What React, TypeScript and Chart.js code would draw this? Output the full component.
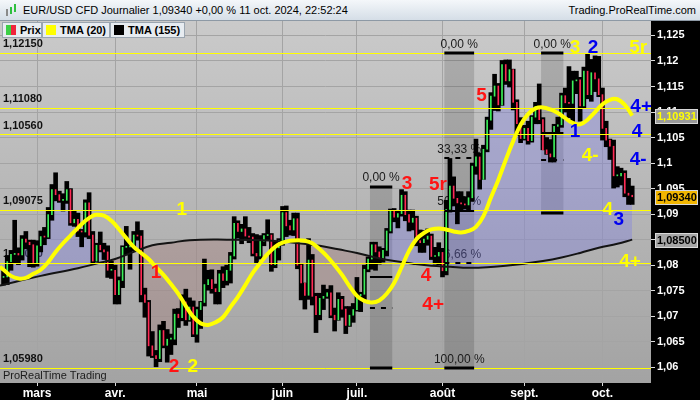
import React, { useEffect, useRef } from "react";
import { Chart, registerables } from "chart.js";

Chart.register(...registerables);

const FONT = '"Liberation Sans", Arial, Helvetica, sans-serif';

// Daily candles, index 0 = 19 Feb 2024 ... index 169 = 11 Oct 2024
const opens = [
  1.0776, 1.0777, 1.0807, 1.0821, 1.0823, 1.082, 1.0851, 1.0845, 1.084, 1.0805,
  1.0838, 1.0856, 1.0855, 1.0899, 1.0948, 1.0938, 1.0927, 1.0927, 1.0948, 1.0883,
  1.089, 1.0867, 1.0865, 1.0922, 1.0859, 1.0808, 1.0839, 1.083, 1.0826, 1.079,
  1.079, 1.0742, 1.077, 1.0835, 1.0836, 1.0838, 1.0859, 1.0857, 1.0742, 1.0727,
  1.0642, 1.0623, 1.0617, 1.0672, 1.0643, 1.0655, 1.0655, 1.0704, 1.0697, 1.0728,
  1.0693, 1.0718,
  1.0665, 1.0713, 1.0727, 1.0762, 1.0772, 1.0754, 1.0748, 1.0783, 1.077, 1.079,
  1.0818, 1.0882, 1.0866, 1.0871, 1.0857, 1.0855, 1.0823, 1.0818, 1.0847, 1.0858,
  1.0859, 1.0801, 1.0834,
  1.0848, 1.0903, 1.0877, 1.0869, 1.0891, 1.08, 1.0765, 1.0741, 1.081, 1.0739,
  1.0703, 1.0735, 1.0739, 1.0746, 1.0702, 1.0693, 1.0733, 1.0714, 1.0682, 1.0702,
  1.0713, 1.074, 1.0743, 1.0792, 1.0812, 1.084, 1.0826, 1.0813, 1.0829, 1.0867,
  1.0906, 1.0894, 1.0901, 1.0937, 1.0899, 1.0884, 1.0892, 1.0848, 1.0844, 1.0851,
  1.0857, 1.0817, 1.0818,
  1.0825, 1.0789, 1.0909, 1.0955, 1.0931, 1.0922, 1.092, 1.0918, 1.0932, 1.0994,
  1.1012, 1.0968, 1.1027, 1.1084, 1.1131, 1.1151, 1.1114, 1.1193, 1.1161, 1.1183,
  1.1119, 1.1077,
  1.1048, 1.1068, 1.1044, 1.109, 1.1111, 1.1085, 1.1026, 1.1018, 1.1012, 1.1072,
  1.1075, 1.1132, 1.1118, 1.1117, 1.1161, 1.1163, 1.1112, 1.118, 1.1134, 1.1177,
  1.1165,
  1.1134, 1.1068, 1.1045, 1.1033, 1.0975, 1.0975, 1.098, 1.0941, 1.0937,
];
const highs = [
  1.0789, 1.0819, 1.0829, 1.0888, 1.0834, 1.0858, 1.0866, 1.0849, 1.0849, 1.0848,
  1.0867, 1.0874, 1.0913, 1.0958, 1.0981, 1.0945, 1.094, 1.0964, 1.095, 1.0907,
  1.0902, 1.087, 1.0928, 1.0942, 1.0866, 1.0843, 1.0865, 1.0843, 1.0838, 1.0808,
  1.08, 1.0777, 1.0838, 1.0876, 1.0847, 1.0866, 1.0885, 1.0868, 1.0755, 1.0731,
  1.067, 1.0633, 1.0683, 1.069, 1.0674, 1.0665, 1.0714, 1.0715, 1.0742, 1.0753,
  1.0736, 1.073,
  1.0718, 1.0729, 1.0812, 1.079, 1.0791, 1.0763, 1.079, 1.0797, 1.08, 1.0825,
  1.0895, 1.0887, 1.088, 1.0895, 1.0874, 1.0862, 1.086, 1.0858, 1.0862, 1.0889,
  1.0862, 1.0846, 1.0852,
  1.0915, 1.0916, 1.0888, 1.0902, 1.0902, 1.0803, 1.0765, 1.0852, 1.0821, 1.0745,
  1.0745, 1.0761, 1.0753, 1.076, 1.0716, 1.0746, 1.0739, 1.0719, 1.0719, 1.0725,
  1.0776, 1.0747, 1.08, 1.0816, 1.0845, 1.0845, 1.0836, 1.0833, 1.0872, 1.091,
  1.0911, 1.0906, 1.0948, 1.0944, 1.0908, 1.0908, 1.0896, 1.0869, 1.0868, 1.0871,
  1.0861, 1.0835, 1.0844,
  1.0833, 1.0927, 1.1009, 1.0973, 1.0944, 1.0944, 1.0934, 1.0944, 1.1, 1.1047,
  1.102, 1.1035, 1.109, 1.1138, 1.1174, 1.1156, 1.1201, 1.1202, 1.1202, 1.1184,
  1.1124, 1.1089,
  1.1074, 1.1082, 1.1093, 1.1119, 1.1155, 1.1089, 1.105, 1.1046, 1.1076, 1.109,
  1.1137, 1.1147, 1.1189, 1.118, 1.118, 1.1168, 1.1188, 1.1214, 1.1203, 1.121,
  1.1209,
  1.1147, 1.1082, 1.1047, 1.1045, 1.0993, 1.099, 1.0985, 1.097, 1.0955,
];
const lows = [
  1.0761, 1.0762, 1.079, 1.0803, 1.0801, 1.081, 1.0832, 1.0797, 1.0796, 1.0798,
  1.0826, 1.084, 1.0852, 1.0888, 1.0926, 1.0923, 1.0906, 1.0921, 1.0878, 1.0876,
  1.0856, 1.0836, 1.0855, 1.0852, 1.0802, 1.0806, 1.0826, 1.0811, 1.0776, 1.0774,
  1.0724, 1.0724, 1.0756, 1.082, 1.0792, 1.0828, 1.0849, 1.0728, 1.0698, 1.0622,
  1.0619, 1.0601, 1.0611, 1.0638, 1.061, 1.0625, 1.0644, 1.0678, 1.0691, 1.0682,
  1.069, 1.066,
  1.0649, 1.0676, 1.072, 1.0751, 1.0745, 1.0724, 1.0724, 1.0756, 1.0761, 1.0765,
  1.0812, 1.0853, 1.0842, 1.0852, 1.0844, 1.0818, 1.0805, 1.0812, 1.0838, 1.0848,
  1.0788, 1.0795, 1.081,
  1.0839, 1.0856, 1.0859, 1.0858, 1.0793, 1.0732, 1.0714, 1.0733, 1.0722, 1.0668,
  1.0693, 1.0713, 1.0735, 1.0697, 1.0671, 1.0692, 1.0698, 1.0666, 1.068, 1.0688,
  1.071, 1.0709, 1.073, 1.0787, 1.0792, 1.079, 1.0802, 1.0806, 1.0818, 1.0863,
  1.0885, 1.0873, 1.0896, 1.0887, 1.0867, 1.0869, 1.0838, 1.0825, 1.0825, 1.0839,
  1.0811, 1.0802, 1.0801,
  1.0777, 1.0781, 1.0904, 1.0916, 1.0881, 1.0906, 1.091, 1.0905, 1.0925, 1.0978,
  1.0949, 1.0968, 1.1022, 1.1066, 1.1103, 1.1102, 1.1113, 1.1154, 1.1149, 1.1104,
  1.1054, 1.104,
  1.1045, 1.1037, 1.1041, 1.1077, 1.1077, 1.1026, 1.1017, 1.1002, 1.1002, 1.106,
  1.107, 1.11, 1.1089, 1.108, 1.1136, 1.1082, 1.1108, 1.1126, 1.1121, 1.114,
  1.113,
  1.1045, 1.1032, 1.1007, 1.0951, 1.0953, 1.0957, 1.0934, 1.0919, 1.0919,
];
const closes = [
  1.0777, 1.0807, 1.0821, 1.0823, 1.082, 1.0851, 1.0845, 1.084, 1.0805, 1.0838,
  1.0856, 1.0855, 1.0899, 1.0948, 1.0938, 1.0927, 1.0927, 1.0948, 1.0883, 1.089,
  1.0867, 1.0865, 1.0922, 1.0859, 1.0808, 1.0839, 1.083, 1.0826, 1.079, 1.079,
  1.0742, 1.077, 1.0835, 1.0836, 1.0838, 1.0859, 1.0857, 1.0742, 1.0727, 1.0642,
  1.0623, 1.0617, 1.0672, 1.0643, 1.0655, 1.0655, 1.0704, 1.0697, 1.0728, 1.0693,
  1.0718, 1.0665,
  1.0713, 1.0727, 1.0762, 1.0772, 1.0754, 1.0748, 1.0783, 1.077, 1.079, 1.0818,
  1.0882, 1.0866, 1.0871, 1.0857, 1.0855, 1.0823, 1.0818, 1.0847, 1.0858, 1.0859,
  1.0801, 1.0834, 1.0848,
  1.0903, 1.0877, 1.0869, 1.0891, 1.08, 1.0765, 1.0741, 1.081, 1.0739, 1.0703,
  1.0735, 1.0739, 1.0746, 1.0702, 1.0693, 1.0733, 1.0714, 1.0682, 1.0702, 1.0713,
  1.074, 1.0743, 1.0792, 1.0812, 1.084, 1.0826, 1.0813, 1.0829, 1.0867, 1.0906,
  1.0894, 1.0901, 1.0937, 1.0899, 1.0884, 1.0892, 1.0848, 1.0844, 1.0851, 1.0857,
  1.0817, 1.0818, 1.0825,
  1.0789, 1.0909, 1.0955, 1.0931, 1.0922, 1.092, 1.0918, 1.0932, 1.0994, 1.1012,
  1.0968, 1.1027, 1.1084, 1.1131, 1.1151, 1.1114, 1.1193, 1.1161, 1.1183, 1.1119,
  1.1077, 1.1048,
  1.1068, 1.1044, 1.109, 1.1111, 1.1085, 1.1026, 1.1018, 1.1012, 1.1072, 1.1075,
  1.1132, 1.1118, 1.1117, 1.1161, 1.1163, 1.1112, 1.118, 1.1134, 1.1177, 1.1165,
  1.1134,
  1.1068, 1.1045, 1.1033, 1.0975, 1.0975, 1.098, 1.0941, 1.0937, 1.0934,
];

// TMA (20) (bar index, value)
const tma20Index = [
  -1, 0, 2, 4, 6, 8, 10, 12, 14, 16, 18, 20, 22, 24, 25, 27, 29, 31, 33, 35, 37, 39, 41,
  43, 45, 47, 49, 51, 53, 55, 57, 59, 61, 63, 65, 67, 69, 71, 73, 75, 77, 79, 81, 83, 85,
  87, 89, 91, 93, 95, 97, 99, 101, 103, 105, 107, 109, 111, 113, 115, 117, 119, 121, 123,
  125, 127, 129, 131, 133, 135, 137, 139, 141, 143, 145, 147, 149, 151, 153, 155, 157,
  159, 161, 163, 165, 167, 169,
];
const tma20Values = [
  1.0797, 1.0791, 1.0779, 1.0774, 1.0775, 1.0783, 1.0791, 1.0806, 1.0826, 1.0843, 1.0858,
  1.0873, 1.0887, 1.0897, 1.0899, 1.0897, 1.0887, 1.0871, 1.0853, 1.0836, 1.0824, 1.0812,
  1.0796, 1.0781, 1.0763, 1.0744, 1.072, 1.0699, 1.0686, 1.0683, 1.0688, 1.0698, 1.0718,
  1.0738, 1.0761, 1.0785, 1.0804, 1.0822, 1.0836, 1.0844, 1.0848, 1.0849, 1.0848, 1.0843,
  1.0831, 1.0817, 1.08, 1.0781, 1.0759, 1.074, 1.073, 1.0727, 1.0731, 1.0744, 1.0765,
  1.0796, 1.0828, 1.0851, 1.0863, 1.087, 1.0872, 1.087, 1.0866, 1.0864, 1.0867, 1.0875,
  1.0896, 1.0932, 1.0967, 1.1006, 1.1043, 1.1075, 1.1096, 1.1107, 1.1109, 1.1105, 1.1098,
  1.1088, 1.1079, 1.1076, 1.1085, 1.11, 1.1115, 1.1124, 1.1125, 1.1114, 1.10931,
];

// TMA (155)
const tma155Index = [
  -1, 10, 20, 25, 30, 35, 40, 45, 50, 60, 70, 77, 85, 90, 95, 100, 105, 110, 115, 120,
  125, 130, 135, 140, 145, 150, 155, 160, 165, 169,
];
const tma155Values = [
  1.076, 1.0779, 1.0794, 1.0803, 1.0812, 1.0826, 1.0839, 1.0844, 1.0849, 1.085, 1.0849,
  1.0845, 1.0838, 1.0831, 1.0824, 1.0815, 1.0808, 1.0803, 1.0799, 1.0797, 1.0795, 1.0796,
  1.0799, 1.0803, 1.0808, 1.0815, 1.0824, 1.0834, 1.0842, 1.085,
];

const monthStartIndex = [9, 30, 52, 75, 95, 118, 140, 161];
const monthLabels = ["mars", "avr.", "mai", "juin", "juil.", "août", "sept.", "oct."];

// horizontal support / resistance levels
const levelValues = [1.1215, 1.1108, 1.1056, 1.09075, 1.0805, 1.0598];
const levelLabels = ["1,12150", "1,11080", "1,10560", "1,09075", "1,08050", "1,05980"];

// Fibonacci boxes
const fibStart = [98.5, 118.5, 144.5];
const fibEnd = [104.5, 126.5, 150.5];
const fibTop = [1.0954, 1.1215, 1.1215];
const fibBottom = [1.0598, 1.0598, 1.0902];
const fibLineLevels = [
  [0, 0.5, 0.6666, 1],
  [0, 0.3333, 0.5, 0.6666, 1],
  [0, 0.5, 0.6666, 1],
];
const fibTextLevels = [[0], [0, 0.3333, 0.5, 0.6666, 1], [0]];

// Elliott wave labels
const waveText = ["1", "2", "2", "1", "3", "5r", "4", "4+", "5", "3", "2", "5r", "1", "4-", "4+", "4", "4-", "4", "3", "4+"];
const waveColor = ["r", "r", "y", "y", "r", "r", "r", "r", "r", "y", "b", "y", "b", "y", "b", "b", "b", "y", "b", "y"];
const waveIndex = [41, 45.8, 50.9, 47.9, 108.5, 116.8, 113.6, 115.5, 128.5, 153.6, 158.5, 170.6, 153.6, 157.7, 171.4, 170.3, 170.6, 162.4, 165.4, 168.4];
const waveValue = [1.0785, 1.0601, 1.0601, 1.0908, 1.0959, 1.0957, 1.0779, 1.0722, 1.1131, 1.1225, 1.1225, 1.1225, 1.1061, 1.1014, 1.111, 1.1061, 1.1006, 1.0908, 1.0888, 1.0806];

const X_MIN = -0.95;
const X_MAX = 174.05;
const Y_MIN = 1.05692;
const Y_MAX = 1.12783;

const WAVE_COLORS: Record<string, string> = { r: "#ff1414", y: "#ffff00", b: "#0000f0" };

function fmtAxis(v: number) {
  const r = Math.round(v * 1000) / 1000;
  return String(r).replace(".", ",");
}
function fmtPrice(v: number) {
  return v.toFixed(5).replace(".", ",");
}
function fmtPct(f: number) {
  return (f * 100).toFixed(2).replace(".", ",") + " %";
}

const prtPlugin = {
  id: "prt",
  beforeDraw(chart: any) {
    const { ctx, chartArea: a, width, height } = chart;
    ctx.save();
    ctx.fillStyle = "#000";
    ctx.fillRect(0, 0, width, height);
    const g = ctx.createLinearGradient(0, a.top, 0, a.bottom);
    g.addColorStop(0, "#cacaca");
    g.addColorStop(1, "#a3a3a3");
    ctx.fillStyle = g;
    ctx.fillRect(a.left, a.top, a.right - a.left, a.bottom - a.top);
    ctx.restore();
  },
  beforeDatasetsDraw(chart: any) {
    const { ctx, chartArea: a, scales } = chart;
    const x = scales.x, y = scales.y;
    ctx.save();
    ctx.beginPath();
    ctx.rect(a.left, a.top, a.right - a.left, a.bottom - a.top);
    ctx.clip();
    for (let k = 0; k < fibStart.length; k++) {
      const x0 = x.getPixelForValue(fibStart[k]);
      const x1 = x.getPixelForValue(fibEnd[k]);
      const y0 = y.getPixelForValue(fibTop[k]);
      const y1 = y.getPixelForValue(fibBottom[k]);
      ctx.fillStyle = "rgba(0,0,0,0.14)";
      ctx.fillRect(x0, y0, x1 - x0, y1 - y0);
      ctx.font = `12px ${FONT}`;
      ctx.fillStyle = "#1a1a1a";
      ctx.textAlign = "center";
      ctx.textBaseline = "middle";
      for (const f of fibTextLevels[k]) {
        const v = fibTop[k] - f * (fibTop[k] - fibBottom[k]);
        ctx.fillText(fmtPct(f), (x0 + x1) / 2, y.getPixelForValue(v) - 9);
      }
    }
    ctx.font = `bold 11px ${FONT}`;
    ctx.fillStyle = "#111";
    ctx.textAlign = "left";
    ctx.textBaseline = "middle";
    for (let k = 0; k < levelValues.length; k++) {
      ctx.fillText(levelLabels[k], a.left + 3, y.getPixelForValue(levelValues[k]) - 9);
    }
    ctx.restore();
  },
  afterDatasetsDraw(chart: any) {
    const { ctx, chartArea: a, scales } = chart;
    const x = scales.x, y = scales.y;
    ctx.save();
    ctx.beginPath();
    ctx.rect(a.left, a.top, a.right - a.left, a.bottom - a.top);
    ctx.clip();
    ctx.strokeStyle = "#ffff00";
    ctx.lineWidth = 1;
    for (const v of levelValues) {
      const py = Math.round(y.getPixelForValue(v)) + 0.5;
      ctx.beginPath();
      ctx.moveTo(a.left, py);
      ctx.lineTo(a.right, py);
      ctx.stroke();
    }
    ctx.strokeStyle = "#000";
    for (let k = 0; k < fibStart.length; k++) {
      const x0 = x.getPixelForValue(fibStart[k]);
      const x1 = x.getPixelForValue(fibEnd[k]);
      for (const f of fibLineLevels[k]) {
        const v = fibTop[k] - f * (fibTop[k] - fibBottom[k]);
        const py = Math.round(y.getPixelForValue(v));
        const edge = f === 0 || f === 1;
        ctx.lineWidth = edge ? 3 : 2;
        ctx.setLineDash(f === 0.3333 || f === 0.6666 ? [5, 6] : []);
        ctx.beginPath();
        ctx.moveTo(x0, py);
        ctx.lineTo(x1, py);
        ctx.stroke();
      }
    }
    ctx.setLineDash([]);
    ctx.font = `bold 19px ${FONT}`;
    ctx.textAlign = "center";
    ctx.textBaseline = "middle";
    for (let k = 0; k < waveText.length; k++) {
      ctx.fillStyle = WAVE_COLORS[waveColor[k]];
      ctx.fillText(waveText[k], x.getPixelForValue(waveIndex[k]), y.getPixelForValue(waveValue[k]));
    }
    ctx.font = `11px ${FONT}`;
    ctx.fillStyle = "#1c1c1c";
    ctx.textAlign = "left";
    ctx.fillText("ProRealTime Trading", a.left + 3, a.bottom - 7);
    ctx.restore();
  },
  afterDraw(chart: any) {
    const { ctx, chartArea: a, scales } = chart;
    const y = scales.y;
    const tagValues = [tma20Values[tma20Values.length - 1], closes[closes.length - 1], tma155Values[tma155Values.length - 1]];
    const tagBg = ["#9a9a9a", "#f2b600", "#a6a6a6"];
    const tagFg = ["#ffff00", "#000000", "#000000"];
    ctx.save();
    ctx.font = `bold 11px ${FONT}`;
    ctx.textAlign = "left";
    ctx.textBaseline = "middle";
    for (let k = 0; k < tagValues.length; k++) {
      const py = Math.round(y.getPixelForValue(tagValues[k]));
      ctx.fillStyle = tagBg[k];
      ctx.fillRect(a.right + 4, py - 7, 43, 15);
      ctx.strokeStyle = "#d8d8d8";
      ctx.lineWidth = 1;
      ctx.strokeRect(a.right + 4.5, py - 6.5, 42, 14);
      ctx.fillStyle = tagFg[k];
      ctx.fillText(fmtPrice(tagValues[k]), a.right + 6, py + 0.5);
    }
    ctx.restore();
  },
};

export default function App() {
  const ref = useRef<HTMLCanvasElement>(null);

  useEffect(() => {
    const canvas = ref.current;
    if (!canvas) return;
    const chart = new Chart(canvas, {
      type: "line",
      data: {
        datasets: [
          {
            type: "line",
            label: "fill",
            data: closes.map((c, i) => ({ x: i, y: c })),
            borderWidth: 0,
            borderColor: "rgba(0,0,0,0)",
            pointRadius: 0,
            tension: 0,
            fill: { target: 3, above: "rgba(118,118,232,0.32)", below: "rgba(160,100,98,0.26)" },
            order: 5,
          },
          {
            type: "bar",
            label: "range",
            data: lows.map((l, i) => ({ x: i, y: [l, highs[i]] })),
            backgroundColor: "#000",
            borderWidth: 0,
            barThickness: 4,
            grouped: false,
            order: 4,
          },
          {
            type: "bar",
            label: "body",
            data: opens.map((o, i) => ({ x: i, y: [o, closes[i]] })),
            backgroundColor: closes.map((c, i) => (c >= opens[i] ? "#3cf05a" : "#ff2a55")),
            borderWidth: 0,
            barThickness: 1,
            minBarLength: 1,
            grouped: false,
            order: 3,
          },
          {
            type: "line",
            label: "TMA (155)",
            data: tma155Index.map((xv, k) => ({ x: xv, y: tma155Values[k] })),
            borderColor: "#141414",
            borderWidth: 2,
            pointRadius: 0,
            tension: 0.4,
            fill: false,
            order: 2,
          },
          {
            type: "line",
            label: "TMA (20)",
            data: tma20Index.map((xv, k) => ({ x: xv, y: tma20Values[k] })),
            borderColor: "#ffff00",
            borderWidth: 4,
            pointRadius: 0,
            tension: 0.4,
            fill: false,
            order: 1,
          },
        ] as any,
      },
      options: {
        responsive: false,
        maintainAspectRatio: false,
        animation: false,
        layout: { padding: 0 },
        plugins: {
          legend: { display: false },
          tooltip: { enabled: false },
        },
        scales: {
          x: {
            type: "linear",
            min: X_MIN,
            max: X_MAX,
            offset: false,
            afterBuildTicks: (s: any) => {
              s.ticks = monthStartIndex.map((v) => ({ value: v }));
            },
            afterFit: (s: any) => {
              s.height = 17;
              s.paddingLeft = 0;
              s.paddingRight = 0;
            },
            grid: { color: "#a4a4a4", lineWidth: 1, drawTicks: true, tickLength: 3, tickColor: "#dddddd", offset: false },
            border: { display: false },
            ticks: {
              color: "#ffffff",
              font: { family: FONT, size: 12, weight: "bold" },
              padding: 0,
              maxRotation: 0,
              autoSkip: false,
              callback: (v: any) => {
                const k = monthStartIndex.indexOf(Number(v));
                return k >= 0 ? monthLabels[k] : "";
              },
            },
          },
          y: {
            type: "linear",
            position: "right",
            min: Y_MIN,
            max: Y_MAX,
            afterFit: (s: any) => {
              s.width = 49;
              s.paddingTop = 0;
              s.paddingBottom = 0;
            },
            grid: { color: "#a4a4a4", lineWidth: 1, tickLength: 4, tickColor: "#dddddd" },
            border: { display: false },
            ticks: {
              stepSize: 0.005,
              includeBounds: false,
              color: "#ffffff",
              font: { family: FONT, size: 11, weight: "bold" },
              padding: 2,
              callback: (v: any) => fmtAxis(Number(v)),
            },
          },
        },
      } as any,
      plugins: [prtPlugin],
    });
    return () => chart.destroy();
  }, []);

  const legendBox: React.CSSProperties = {
    position: "absolute",
    top: 22,
    height: 16,
    boxSizing: "border-box",
    background: "#e7ecf1",
    border: "1px solid #9aa5b0",
    display: "flex",
    alignItems: "center",
    font: `bold 11px ${FONT}`,
    color: "#000",
    whiteSpace: "nowrap",
  };
  const sq = (bg: string): React.CSSProperties => ({ width: 10, height: 10, background: bg, marginLeft: 3, marginRight: 4, flex: "none" });

  return (
    <div style={{ position: "fixed", left: 0, top: 0, width: 700, height: 400, background: "#000", overflow: "hidden", fontFamily: FONT }}>
      <div
        style={{
          position: "absolute",
          left: 0,
          top: 0,
          width: 700,
          height: 21,
          boxSizing: "border-box",
          background: "linear-gradient(#f4f7fa, #d5dee7)",
          borderBottom: "1px solid #8d99a5",
          font: `11px ${FONT}`,
          color: "#000",
        }}
      >
        <div style={{ position: "absolute", left: 5, top: 4, width: 14, height: 13 }}>
          <div style={{ position: "absolute", left: 1, top: 5, width: 2, height: 7, background: "#8a8a8a" }} />
          <div style={{ position: "absolute", left: 5, top: 3, width: 2, height: 7, background: "#2fbf3f" }} />
          <div style={{ position: "absolute", left: 9, top: 0, width: 2, height: 8, background: "#2fbf3f" }} />
        </div>
        <div style={{ position: "absolute", left: 23, top: 0, lineHeight: "21px" }}>
          EUR/USD CFD Journalier 1,09340 +0,00 % 11 oct. 2024, 22:52:24
        </div>
        <div style={{ position: "absolute", right: 4, top: 0, lineHeight: "21px" }}>Trading.ProRealTime.com</div>
      </div>
      <canvas ref={ref} width={700} height={379} style={{ position: "absolute", left: 0, top: 21, display: "block", width: 700, height: 379 }} />
      <div style={{ ...legendBox, left: 2, width: 40 }}>
        <div style={{ ...sq("#3ccf46"), background: "linear-gradient(90deg, #3ccf46 50%, #f0243c 50%)" }} />
        Prix
      </div>
      <div style={{ ...legendBox, left: 42, width: 68 }}>
        <div style={sq("#ffff00")} />
        TMA (20)
      </div>
      <div style={{ ...legendBox, left: 110, width: 75 }}>
        <div style={sq("#000000")} />
        TMA (155)
      </div>
    </div>
  );
}
